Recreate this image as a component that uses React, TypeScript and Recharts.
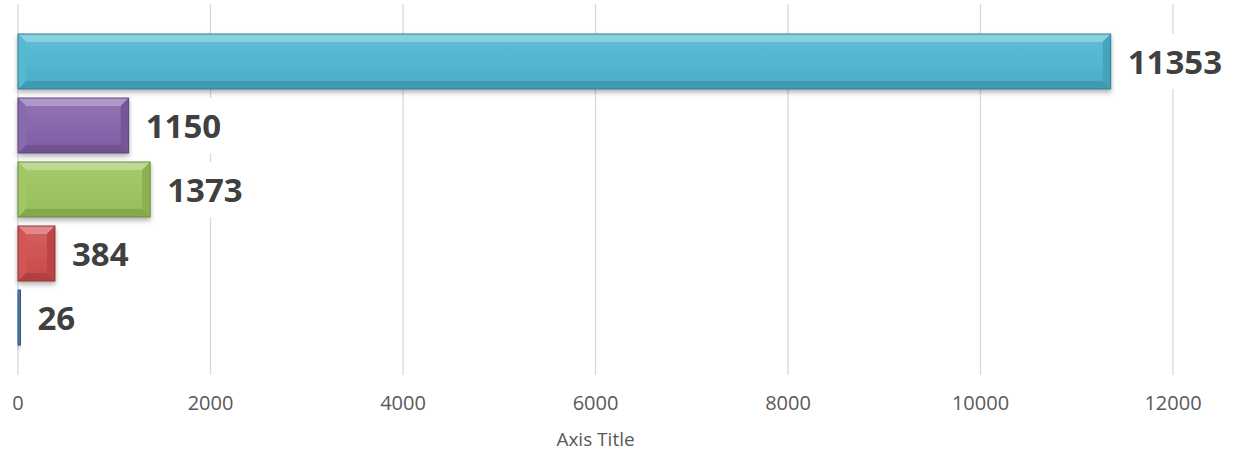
import React from 'react';
import { BarChart, Bar, XAxis, YAxis, CartesianGrid, Cell, LabelList } from 'recharts';

const CATEGORIES = ['Item 1', 'Item 2', 'Item 3', 'Item 4', 'Item 5'];
const VALUES = [11353, 1150, 1373, 384, 26];
const BAR_COLORS = ['#4BB5D0', '#8361AA', '#9CC45A', '#CF4C4A', '#4A7DBA'];
const X_TICKS = [0, 2000, 4000, 6000, 8000, 10000, 12000];

const data = CATEGORIES.map((name, i) => ({ name, value: VALUES[i], color: BAR_COLORS[i] }));

const FONT = '"Open Sans", "Liberation Sans", sans-serif';

function shade(hex: string, amt: number): string {
  const n = parseInt(hex.slice(1), 16);
  const f = (c: number) => Math.max(0, Math.min(255, Math.round(amt >= 0 ? c + (255 - c) * amt : c * (1 + amt))));
  const r = f((n >> 16) & 255);
  const g = f((n >> 8) & 255);
  const b = f(n & 255);
  return '#' + ((1 << 24) | (r << 16) | (g << 8) | b).toString(16).slice(1);
}

// bevelled bar like the Excel "soft bevel" effect
const BevelBar = (props: any) => {
  const { x, y, width, height, payload, index } = props;
  if (width <= 0 || height <= 0) return null;
  const fill = payload.color;
  const b = Math.min(8, width / 2, height / 2);
  const x2 = x + width;
  const y2 = y + height;
  const gid = 'face' + index;
  return (
    <g filter="url(#barShadow)">
      <defs>
        <linearGradient id={gid} x1="0" y1="0" x2="0" y2="1">
          <stop offset="0" stopColor={shade(fill, 0.12)} />
          <stop offset="1" stopColor={shade(fill, -0.04)} />
        </linearGradient>
      </defs>
      <rect x={x} y={y} width={width} height={height} fill={`url(#${gid})`} />
      <polygon points={`${x},${y} ${x2},${y} ${x2 - b},${y + b} ${x + b},${y + b}`} fill={shade(fill, 0.35)} />
      <polygon points={`${x},${y2} ${x2},${y2} ${x2 - b},${y2 - b} ${x + b},${y2 - b}`} fill={shade(fill, -0.15)} />
      <polygon points={`${x},${y} ${x + b},${y + b} ${x + b},${y2 - b} ${x},${y2}`} fill={shade(fill, 0.06)} />
      <polygon points={`${x2},${y} ${x2 - b},${y + b} ${x2 - b},${y2 - b} ${x2},${y2}`} fill={shade(fill, -0.1)} />
      <rect x={x} y={y} width={width} height={height} fill="none" stroke={shade(fill, -0.3)} strokeWidth={1} />
    </g>
  );
};

const ValueLabel = (props: any) => {
  const { x, y, width, height, value } = props;
  const tx = x + width + 17;
  const textW = String(value).length * 19;
  return (
    <g>
      <rect x={x + width + 4} y={y} width={textW + 24} height={height} fill="#ffffff" />
      <text x={tx} y={y + height / 2} dominantBaseline="central" fontFamily={FONT} fontWeight={700} fontSize={33} fill="#404040">
        {value}
      </text>
    </g>
  );
};

export default function App() {
  return (
    <div style={{ position: 'absolute', left: 0, top: 0, background: '#fff' }}>
      <BarChart
        width={1237}
        height={453}
        data={data}
        layout="vertical"
        margin={{ top: 4, right: 64, bottom: 0, left: 18 }}
        barSize={55}
      >
        <defs>
          <filter id="barShadow" x="-10%" y="-20%" width="120%" height="160%">
            <feDropShadow dx="0" dy="3" stdDeviation="2.5" floodColor="#000" floodOpacity="0.3" />
          </filter>
        </defs>
        <CartesianGrid horizontal={false} stroke="#d9d9d9" strokeWidth={1.3} />
        <XAxis
          type="number"
          domain={[0, 12000]}
          ticks={X_TICKS}
          axisLine={false}
          tickLine={false}
          tickSize={0}
          tickMargin={21}
          height={78}
          tick={{ fontFamily: FONT, fontSize: 20, fill: '#595959' }}
          label={{ value: 'Axis Title', position: 'insideBottom', offset: 7, fontFamily: FONT, fontSize: 19, fill: '#595959' }}
        />
        <YAxis type="category" dataKey="name" hide padding={{ top: 25, bottom: 26 }} />
        <Bar dataKey="value" shape={BevelBar} isAnimationActive={false}>
          {data.map((d, i) => (
            <Cell key={i} fill={d.color} />
          ))}
          <LabelList dataKey="value" content={ValueLabel} />
        </Bar>
      </BarChart>
    </div>
  );
}
